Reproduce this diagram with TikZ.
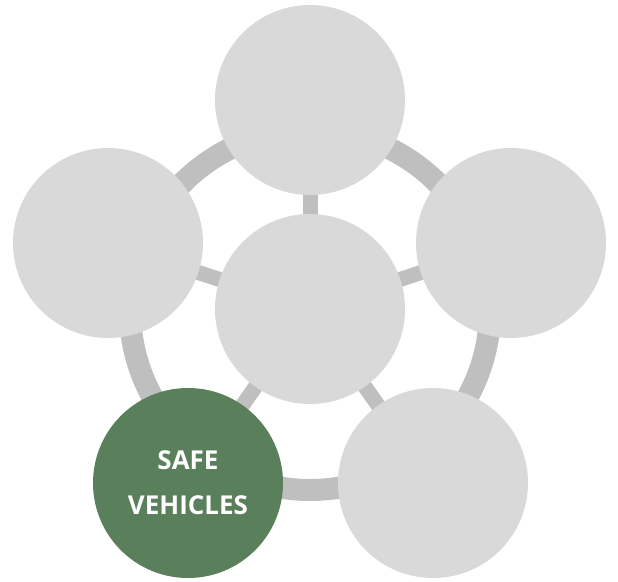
\documentclass[tikz,border=0pt]{standalone}
\usepackage{fontspec}
\setmainfont{Open Sans}
\usetikzlibrary{backgrounds}
\definecolor{circlegray}{HTML}{D9D9D9}
\definecolor{ringgray}{HTML}{BFBFBF}
\definecolor{safegreen}{HTML}{5A7F5B}
\begin{document}
\begin{tikzpicture}[x=1pt,y=-1pt,
    node/.style={circle,fill=circlegray,minimum size=190pt,inner sep=0pt},
    link/.style={draw=ringgray,line width=15pt}]
       \useasboundingbox (0, 0) rectangle (618, 581);
       \node[node] (0) at (310, 309) {};
       \node[node] (1) at (310, 100)  {};
       \node[node] (2) at (511, 243) {};
       \node[node] (3) at (433, 483) {};
       \node[node,fill=safegreen,text=white,font=\bfseries\fontsize{26}{45}\selectfont,align=center] (4) at (188, 483) {SAFE\\VEHICLES};
       \node[node] (5) at (108, 243) {};

       \begin{scope}[on background layer]
         \draw[draw=ringgray,line width=22pt] (0.center) ++(0, 1) circle[radius=180pt];
         \foreach \i in {1,...,5}
           \draw[link] (0.center) -- (\i.center);
       \end{scope}
     \end{tikzpicture}
\end{document}
